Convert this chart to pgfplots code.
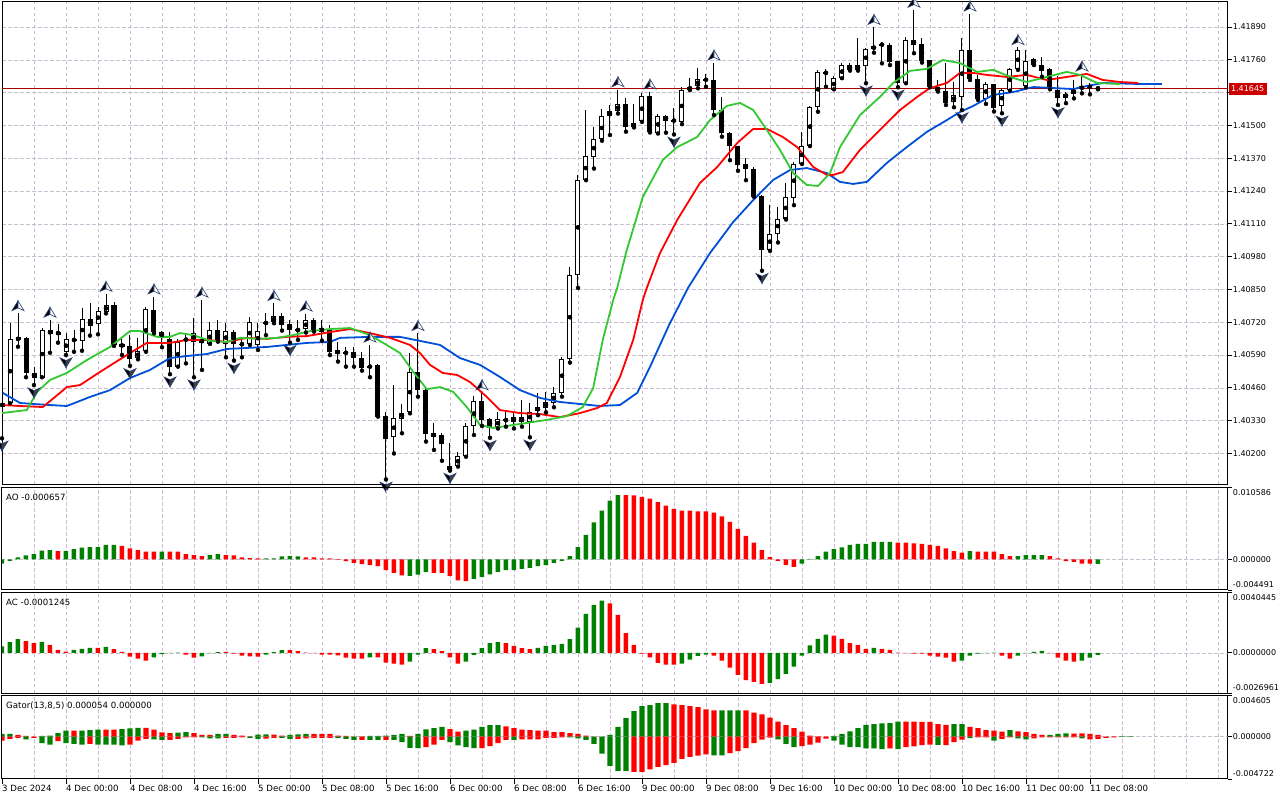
\documentclass[border=0pt]{standalone}
\usepackage{fontspec}
\setmainfont{DejaVu Sans}
\usepackage{pgfplots}
\usepackage{pgfplotstable}
\pgfplotsset{compat=1.18}
\definecolor{gridx}{RGB}{206,186,210}
\definecolor{gridy}{RGB}{200,190,208}
\definecolor{jawc}{RGB}{0,80,215}
\definecolor{teethc}{RGB}{255,0,0}
\definecolor{lipsc}{RGB}{50,200,50}
\definecolor{upc}{RGB}{0,128,0}
\definecolor{dnc}{RGB}{255,0,0}
\definecolor{pricec}{RGB}{170,0,0}
\definecolor{pricebox}{RGB}{205,0,0}
\definecolor{arrowedge}{RGB}{40,60,110}
\newcommand\lbl{\fontsize{8.6}{10}\selectfont}
\newcommand\nlbl{\fontsize{8}{9.5}\selectfont}

\pgfdeclareplotmark{fup}{%
  \pgfpathmoveto{\pgfpoint{0pt}{12.5pt}}%
  \pgfpathlineto{\pgfpoint{0pt}{5.5pt}}%
  \pgfpathlineto{\pgfpoint{-6pt}{2.8pt}}%
  \pgfpathclose
  \pgfsetfillcolor{black}\pgfusepathqfillstroke
  \pgfpathmoveto{\pgfpoint{0pt}{12.5pt}}%
  \pgfpathlineto{\pgfpoint{6pt}{2.8pt}}%
  \pgfpathlineto{\pgfpoint{0pt}{5.5pt}}%
  \pgfpathclose
  \pgfsetfillcolor{white}\pgfusepathqfillstroke}
\pgfdeclareplotmark{fdn}{%
  \pgfpathmoveto{\pgfpoint{0pt}{-12.5pt}}%
  \pgfpathlineto{\pgfpoint{0pt}{-5.5pt}}%
  \pgfpathlineto{\pgfpoint{-6pt}{-2.8pt}}%
  \pgfpathclose
  \pgfsetfillcolor{black}\pgfusepathqfillstroke
  \pgfpathmoveto{\pgfpoint{0pt}{-12.5pt}}%
  \pgfpathlineto{\pgfpoint{6pt}{-2.8pt}}%
  \pgfpathlineto{\pgfpoint{0pt}{-5.5pt}}%
  \pgfpathclose
  \pgfsetfillcolor{black!75}\pgfusepathqfillstroke}

\pgfplotstableread{
n O H L C
0 1.40385 1.40412 1.40260 1.40401
1 1.40399 1.40716 1.40399 1.40654
2 1.40648 1.40755 1.40623 1.40660
3 1.40660 1.40663 1.40502 1.40518
4 1.40522 1.40544 1.40471 1.40502
5 1.40502 1.40696 1.40502 1.40689
6 1.40689 1.40729 1.40599 1.40672
7 1.40672 1.40713 1.40639 1.40684
8 1.40601 1.40676 1.40590 1.40652
9 1.40652 1.40689 1.40603 1.40647
10 1.40647 1.40778 1.40607 1.40732
11 1.40732 1.40795 1.40667 1.40706
12 1.40712 1.40782 1.40672 1.40765
13 1.40762 1.40831 1.40755 1.40788
14 1.40788 1.40802 1.40626 1.40630
15 1.40636 1.40663 1.40590 1.40623
16 1.40626 1.40669 1.40547 1.40577
17 1.40577 1.40656 1.40573 1.40606
18 1.40606 1.40782 1.40603 1.40771
19 1.40771 1.40821 1.40676 1.40683
20 1.40680 1.40687 1.40621 1.40659
21 1.40656 1.40683 1.40514 1.40544
22 1.40544 1.40654 1.40544 1.40643
23 1.40647 1.40669 1.40557 1.40656
24 1.40643 1.40736 1.40502 1.40680
25 1.40654 1.40808 1.40531 1.40636
26 1.40636 1.40722 1.40634 1.40689
27 1.40689 1.40729 1.40643 1.40650
28 1.40634 1.40716 1.40581 1.40685
29 1.40681 1.40689 1.40568 1.40634
30 1.40634 1.40656 1.40581 1.40632
31 1.40634 1.40742 1.40630 1.40720
32 1.40630 1.40716 1.40610 1.40685
33 1.40712 1.40755 1.40669 1.40722
34 1.40720 1.40795 1.40716 1.40745
35 1.40745 1.40755 1.40687 1.40712
36 1.40716 1.40729 1.40639 1.40689
37 1.40687 1.40729 1.40650 1.40692
38 1.40692 1.40753 1.40679 1.40729
39 1.40729 1.40736 1.40683 1.40689
40 1.40700 1.40729 1.40647 1.40683
41 1.40689 1.40709 1.40590 1.40602
42 1.40610 1.40643 1.40564 1.40597
43 1.40603 1.40623 1.40544 1.40597
44 1.40603 1.40623 1.40544 1.40577
45 1.40577 1.40603 1.40528 1.40540
46 1.40540 1.40630 1.40502 1.40549
47 1.40550 1.40554 1.40346 1.40346
48 1.40348 1.40366 1.40097 1.40260
49 1.40264 1.40471 1.40200 1.40339
50 1.40339 1.40396 1.40280 1.40363
51 1.40363 1.40597 1.40359 1.40524
52 1.40524 1.40676 1.40425 1.40454
53 1.40451 1.40462 1.40247 1.40280
54 1.40282 1.40319 1.40214 1.40266
55 1.40273 1.40280 1.40171 1.40237
56 1.40134 1.40240 1.40132 1.40150
57 1.40150 1.40207 1.40148 1.40190
58 1.40190 1.40322 1.40187 1.40309
59 1.40309 1.40428 1.40273 1.40408
60 1.40408 1.40441 1.40309 1.40335
61 1.40336 1.40339 1.40262 1.40302
62 1.40306 1.40363 1.40299 1.40336
63 1.40336 1.40363 1.40306 1.40329
64 1.40326 1.40368 1.40299 1.40346
65 1.40343 1.40412 1.40306 1.40326
66 1.40326 1.40401 1.40264 1.40363
67 1.40368 1.40438 1.40352 1.40383
68 1.40383 1.40445 1.40363 1.40403
69 1.40403 1.40462 1.40383 1.40441
70 1.40441 1.40583 1.40425 1.40574
71 1.40574 1.40939 1.40560 1.40907
72 1.40907 1.41303 1.40856 1.41286
73 1.41286 1.41561 1.41283 1.41378
74 1.41373 1.41492 1.41329 1.41446
75 1.41446 1.41565 1.41439 1.41537
76 1.41537 1.41580 1.41462 1.41557
77 1.41557 1.41642 1.41547 1.41583
78 1.41583 1.41607 1.41475 1.41495
79 1.41492 1.41584 1.41492 1.41508
80 1.41517 1.41627 1.41514 1.41616
81 1.41616 1.41633 1.41472 1.41472
82 1.41472 1.41545 1.41468 1.41537
83 1.41537 1.41540 1.41471 1.41517
84 1.41520 1.41567 1.41464 1.41521
85 1.41514 1.41653 1.41505 1.41642
86 1.41642 1.41686 1.41640 1.41653
87 1.41656 1.41726 1.41647 1.41682
88 1.41681 1.41702 1.41653 1.41683
89 1.41682 1.41748 1.41541 1.41561
90 1.41563 1.41613 1.41455 1.41471
91 1.41472 1.41472 1.41362 1.41418
92 1.41418 1.41418 1.41320 1.41345
93 1.41347 1.41369 1.41283 1.41329
94 1.41329 1.41336 1.41217 1.41217
95 1.41220 1.41224 1.40924 1.41008
96 1.41008 1.41184 1.41003 1.41072
97 1.41072 1.41175 1.41036 1.41131
98 1.41131 1.41273 1.41127 1.41215
99 1.41215 1.41356 1.41184 1.41349
100 1.41349 1.41475 1.41347 1.41418
101 1.41418 1.41576 1.41418 1.41574
102 1.41574 1.41719 1.41554 1.41713
103 1.41713 1.41722 1.41653 1.41706
104 1.41643 1.41696 1.41643 1.41687
105 1.41689 1.41746 1.41687 1.41739
106 1.41739 1.41749 1.41717 1.41720
107 1.41720 1.41845 1.41717 1.41739
108 1.41735 1.41806 1.41667 1.41802
109 1.41802 1.41889 1.41788 1.41815
110 1.41816 1.41832 1.41746 1.41825
111 1.41819 1.41825 1.41739 1.41753
112 1.41755 1.41755 1.41651 1.41667
113 1.41669 1.41849 1.41667 1.41841
114 1.41839 1.41957 1.41786 1.41821
115 1.41823 1.41845 1.41749 1.41755
116 1.41759 1.41759 1.41651 1.41654
117 1.41651 1.41680 1.41634 1.41636
118 1.41636 1.41746 1.41581 1.41590
119 1.41592 1.41673 1.41572 1.41621
120 1.41614 1.41845 1.41561 1.41799
121 1.41799 1.41942 1.41680 1.41683
122 1.41683 1.41700 1.41601 1.41605
123 1.41605 1.41673 1.41585 1.41664
124 1.41664 1.41664 1.41555 1.41570
125 1.41577 1.41647 1.41548 1.41640
126 1.41640 1.41726 1.41638 1.41722
127 1.41722 1.41809 1.41720 1.41799
128 1.41656 1.41799 1.41651 1.41755
129 1.41766 1.41766 1.41739 1.41742
130 1.41742 1.41772 1.41693 1.41716
131 1.41724 1.41726 1.41643 1.41647
132 1.41643 1.41696 1.41581 1.41611
133 1.41611 1.41634 1.41588 1.41627
134 1.41627 1.41680 1.41607 1.41643
135 1.41643 1.41704 1.41627 1.41656
136 1.41656 1.41667 1.41623 1.41651
137 1.41651 1.41654 1.41643 1.41645
}\candles

\pgfplotstableread{
n H
2 1.40755
6 1.40729
13 1.40831
19 1.40821
25 1.40808
34 1.40795
38 1.40753
46 1.40630
52 1.40676
60 1.40441
77 1.41642
81 1.41633
89 1.41748
109 1.41889
114 1.41957
121 1.41942
127 1.41809
135 1.41704
}\fracup

\pgfplotstableread{
n L
0 1.40260
4 1.40471
8 1.40590
16 1.40547
21 1.40514
24 1.40502
29 1.40568
36 1.40639
48 1.40097
56 1.40132
61 1.40262
66 1.40264
84 1.41464
95 1.40924
108 1.41667
112 1.41651
120 1.41561
125 1.41548
132 1.41581
}\fracdn

\pgfplotstableread{
n P
0.1 1.40440
2.25 1.40400
3.9 1.40396
8.1 1.40388
9.4 1.40404
11 1.40424
13.5 1.40451
16 1.40499
18.5 1.40531
21 1.40578
23.1 1.40586
25.6 1.40594
28.1 1.40614
30.6 1.40618
33.1 1.40622
35.6 1.40630
38.1 1.40638
41 1.40642
42.25 1.40658
46 1.40662
49.75 1.40662
52.25 1.40646
54.75 1.40630
57.25 1.40578
59.75 1.40551
62.25 1.40503
64.75 1.40451
67.25 1.40420
69.75 1.40404
72.25 1.40396
74.75 1.40388
77.25 1.40392
79.4 1.40440
81 1.40543
83.4 1.40710
85.75 1.40856
88.5 1.40994
91.4 1.41117
93.9 1.41204
96.4 1.41284
98.5 1.41323
100.6 1.41331
103.1 1.41311
104.75 1.41276
106.4 1.41268
108.1 1.41276
110.6 1.41351
113.1 1.41414
115.6 1.41474
118.1 1.41521
119.75 1.41553
121.4 1.41577
123.9 1.41621
126.4 1.41632
128.9 1.41652
131.4 1.41648
133.9 1.41644
135.6 1.41656
137.6 1.41668
142.25 1.41664
145 1.41664
}\jaw

\pgfplotstableread{
n P
0 1.40392
2.25 1.40388
5.1 1.40384
7.25 1.40440
8.1 1.40463
9.75 1.40471
12.25 1.40523
16 1.40598
18.1 1.40638
21 1.40638
23.1 1.40650
25.6 1.40650
28.1 1.40642
30.6 1.40658
33.1 1.40654
35.6 1.40662
38.1 1.40665
41 1.40681
43.5 1.40693
46 1.40677
48.5 1.40658
51 1.40630
52.25 1.40598
53.5 1.40551
55.1 1.40519
56.9 1.40511
58.5 1.40483
60.6 1.40424
62.25 1.40372
64.75 1.40360
67.25 1.40356
69.75 1.40344
72.25 1.40360
74.4 1.40380
75.6 1.40400
77.25 1.40503
78.9 1.40650
80.1 1.40808
80.6 1.40856
82.25 1.40994
84.4 1.41125
87.25 1.41272
89.4 1.41335
91.9 1.41430
93.9 1.41486
95.6 1.41486
97.6 1.41454
99.4 1.41414
101.4 1.41335
103.1 1.41304
103.9 1.41304
105.1 1.41315
107.25 1.41403
109.75 1.41482
112.25 1.41561
114.4 1.41613
116 1.41648
118.1 1.41668
119.75 1.41708
121.4 1.41708
123.1 1.41700
125.6 1.41692
128.1 1.41700
130.6 1.41680
133.1 1.41692
135.6 1.41704
137.6 1.41680
139.75 1.41672
142 1.41668
}\teeth

\pgfplotstableread{
n P
0 1.40360
3.1 1.40372
4.4 1.40444
6 1.40491
8.1 1.40519
10.6 1.40570
13.5 1.40622
16 1.40685
17.25 1.40685
19.4 1.40662
21 1.40662
22.25 1.40677
23.9 1.40669
26 1.40646
28.1 1.40642
29.75 1.40658
32.25 1.40654
34.4 1.40658
36.4 1.40669
38.5 1.40685
41 1.40693
43.5 1.40697
46 1.40669
48.5 1.40622
49.75 1.40598
51.4 1.40523
53.1 1.40455
54.75 1.40463
56.4 1.40444
58.1 1.40384
59.75 1.40313
61.4 1.40301
63.1 1.40309
65.6 1.40321
68.1 1.40333
70.6 1.40348
72.6 1.40384
73.9 1.40459
75.1 1.40650
76.4 1.40808
76.9 1.40856
78.1 1.41006
80.1 1.41216
82.6 1.41363
84.4 1.41414
86.9 1.41454
88.5 1.41521
90.6 1.41577
92.25 1.41589
93.9 1.41561
95.6 1.41482
97.25 1.41403
98.9 1.41311
100.6 1.41264
102 1.41260
103.5 1.41311
104.75 1.41414
107.25 1.41541
109.75 1.41613
111.4 1.41668
113.5 1.41716
115.6 1.41724
117.6 1.41759
119.75 1.41747
121.9 1.41712
123.9 1.41720
126.4 1.41688
128.1 1.41672
130.6 1.41692
133.1 1.41712
134.75 1.41700
136.9 1.41668
139.75 1.41664
}\lips

\pgfplotstableread{
n v c
0 -0.000594 1
1 -0.000198 1
2 0.000297 1
3 0.000594 1
4 0.000792 1
5 0.001288 1
6 0.001387 1
7 0.001238 0
8 0.001238 1
9 0.001535 1
10 0.001734 1
11 0.001833 1
12 0.001833 1
13 0.002130 1
14 0.002130 1
15 0.001981 0
16 0.001635 0
17 0.001387 0
18 0.001139 0
19 0.001139 0
20 0.001139 1
21 0.001139 0
22 0.001139 0
23 0.000792 0
24 0.000644 0
25 0.000495 0
26 0.000644 1
27 0.000792 1
28 0.000644 0
29 0.000594 0
30 0.000297 0
31 0.000198 0
32 0.000149 0
33 0.000149 1
34 0.000149 1
35 0.000446 1
36 0.000495 1
37 0.000446 1
38 0.000297 0
39 0.000297 0
40 0.000149 0
41 0.000149 0
42 -0.000050 0
43 -0.000248 0
44 -0.000495 0
45 -0.000693 0
46 -0.000842 0
47 -0.000991 0
48 -0.001585 0
49 -0.001981 0
50 -0.002328 0
51 -0.002427 1
52 -0.002229 1
53 -0.001833 1
54 -0.001981 0
55 -0.001981 0
56 -0.002427 0
57 -0.003071 0
58 -0.003170 0
59 -0.002873 1
60 -0.002576 1
61 -0.002179 1
62 -0.001833 1
63 -0.001585 1
64 -0.001585 1
65 -0.001387 1
66 -0.001238 1
67 -0.000991 1
68 -0.000842 1
69 -0.000495 1
70 -0.000198 1
71 0.000495 1
72 0.001833 1
73 0.003616 1
74 0.005448 1
75 0.007182 1
76 0.008668 1
77 0.009460 1
78 0.009450 0
79 0.009440 0
80 0.009213 0
81 0.008965 0
82 0.008420 0
83 0.007925 0
84 0.007430 0
85 0.007182 0
86 0.007182 0
87 0.007083 0
88 0.007083 0
89 0.006885 0
90 0.006340 0
91 0.005547 0
92 0.004507 0
93 0.003467 0
94 0.002477 0
95 0.001387 0
96 0.000347 0
97 -0.000198 0
98 -0.000842 0
99 -0.001090 0
100 -0.000594 1
101 0.000099 1
102 0.000495 1
103 0.001139 1
104 0.001535 1
105 0.001783 1
106 0.002130 1
107 0.002278 1
108 0.002278 1
109 0.002576 1
110 0.002576 1
111 0.002576 1
112 0.002477 0
113 0.002477 0
114 0.002377 0
115 0.002278 0
116 0.002130 0
117 0.001981 0
118 0.001635 0
119 0.001238 0
120 0.000991 0
121 0.001238 1
122 0.001139 0
123 0.001139 0
124 0.001139 0
125 0.000792 0
126 0.000495 0
127 0.000495 1
128 0.000644 1
129 0.000644 1
130 0.000644 1
131 0.000495 0
132 0.000149 0
133 -0.000248 0
134 -0.000347 0
135 -0.000594 0
136 -0.000594 0
137 -0.000657 1
}\ao

\pgfplotstableread{
n v c
0 0.000427 1
1 0.000719 1
2 0.000921 1
3 0.000786 0
4 0.000652 0
5 0.000742 1
6 0.000539 0
7 0.000202 0
8 0.000090 0
9 0.000202 1
10 0.000270 1
11 0.000337 1
12 0.000337 0
13 0.000404 1
14 0.000247 0
15 0.000067 0
16 -0.000247 0
17 -0.000382 0
18 -0.000517 0
19 -0.000292 1
20 -0.000090 1
21 -0.000020 1
22 0.000010 1
23 -0.000112 0
24 -0.000315 0
25 -0.000225 1
26 -0.000020 1
27 0.000045 1
28 0.000067 0
29 -0.000045 0
30 -0.000180 0
31 -0.000225 0
32 -0.000247 0
33 -0.000112 1
34 0.000045 1
35 0.000180 1
36 0.000180 0
37 0.000112 0
38 0.000020 0
39 -0.000020 0
40 -0.000112 0
41 -0.000112 0
42 -0.000157 0
43 -0.000315 0
44 -0.000382 0
45 -0.000382 0
46 -0.000292 1
47 -0.000292 0
48 -0.000652 0
49 -0.000719 0
50 -0.000786 0
51 -0.000584 1
52 -0.000112 1
53 0.000315 1
54 0.000247 0
55 0.000112 0
56 -0.000292 0
57 -0.000719 0
58 -0.000584 1
59 -0.000135 1
60 0.000315 1
61 0.000652 1
62 0.000719 1
63 0.000652 0
64 0.000472 0
65 0.000315 0
66 0.000247 0
67 0.000337 1
68 0.000472 1
69 0.000539 1
70 0.000607 1
71 0.000921 1
72 0.001685 1
73 0.002607 1
74 0.003213 1
75 0.003483 1
76 0.003303 0
77 0.002539 0
78 0.001326 0
79 0.000539 0
80 -0.000045 0
81 -0.000292 0
82 -0.000674 0
83 -0.000786 0
84 -0.000786 0
85 -0.000719 1
86 -0.000449 1
87 -0.000202 1
88 -0.000112 1
89 -0.000180 0
90 -0.000517 0
91 -0.000989 0
92 -0.001461 0
93 -0.001820 0
94 -0.001932 0
95 -0.002067 0
96 -0.002000 1
97 -0.001753 1
98 -0.001393 1
99 -0.000921 1
100 -0.000180 1
101 0.000494 1
102 0.000944 1
103 0.001213 1
104 0.001146 0
105 0.000944 0
106 0.000652 0
107 0.000539 0
108 0.000270 0
109 0.000337 1
110 0.000270 0
111 0.000202 0
112 0.000010 0
113 -0.000020 0
114 -0.000045 0
115 -0.000045 0
116 -0.000180 0
117 -0.000247 0
118 -0.000315 0
119 -0.000584 0
120 -0.000517 1
121 -0.000180 1
122 -0.000045 1
123 -0.000020 1
124 0.000010 1
125 -0.000180 0
126 -0.000382 0
127 -0.000180 1
128 -0.000020 1
129 0.000067 1
130 0.000135 1
131 -0.000020 0
132 -0.000315 0
133 -0.000517 0
134 -0.000584 0
135 -0.000517 1
136 -0.000315 1
137 -0.000125 1
}\ac

\pgfplotstableread{
n up cu dn cd
0 0.000293 1 -0.000439 0
1 0.000293 1 -0.000256 0
2 0.000183 0 -0.000146 0
3 0.000073 0 -0.000293 1
4 0.000000 0 -0.000146 0
5 0.000073 1 -0.000732 1
6 0.000110 1 -0.000878 1
7 0.000403 1 -0.000512 0
8 0.000659 1 -0.000732 1
9 0.000659 0 -0.000805 1
10 0.000659 1 -0.000878 1
11 0.000732 1 -0.000805 0
12 0.000769 1 -0.000878 1
13 0.000769 0 -0.000878 1
14 0.000769 0 -0.000878 1
15 0.000842 1 -0.000988 1
16 0.000915 1 -0.000878 0
17 0.000988 1 -0.000439 0
18 0.000988 0 -0.000256 0
19 0.000769 0 -0.000293 1
20 0.000476 0 -0.000366 1
21 0.000403 0 -0.000366 0
22 0.000439 1 -0.000256 0
23 0.000512 1 -0.000073 0
24 0.000403 0 -0.000073 0
25 0.000183 0 -0.000073 1
26 0.000183 0 -0.000183 1
27 0.000293 1 -0.000183 1
28 0.000293 1 -0.000146 0
29 0.000183 0 -0.000146 0
30 0.000110 0 -0.000073 0
31 0.000037 0 -0.000146 1
32 0.000220 1 -0.000256 1
33 0.000256 1 -0.000220 0
34 0.000220 0 -0.000146 0
35 0.000110 0 -0.000146 1
36 0.000183 1 -0.000256 1
37 0.000256 1 -0.000256 0
38 0.000293 1 -0.000183 0
39 0.000293 0 -0.000146 0
40 0.000293 0 -0.000146 0
41 0.000293 0 -0.000146 0
42 0.000110 0 -0.000146 1
43 0.000073 0 -0.000256 1
44 0.000000 0 -0.000366 1
45 0.000037 1 -0.000366 0
46 0.000073 1 -0.000366 1
47 0.000073 1 -0.000366 1
48 0.000110 1 -0.000366 0
49 0.000183 1 -0.000366 1
50 0.000293 1 -0.000622 1
51 0.000073 0 -0.001244 1
52 0.000293 1 -0.001281 1
53 0.000805 1 -0.001171 0
54 0.000952 1 -0.000878 0
55 0.001098 1 -0.000366 0
56 0.000842 0 -0.000622 1
57 0.000549 0 -0.000988 1
58 0.000659 1 -0.001171 1
59 0.000769 1 -0.001281 1
60 0.001098 1 -0.001281 0
61 0.001281 1 -0.001061 0
62 0.001281 1 -0.000732 0
63 0.001135 0 -0.000366 0
64 0.000952 0 -0.000366 1
65 0.000769 0 -0.000293 0
66 0.000732 0 -0.000293 0
67 0.000659 0 -0.000293 0
68 0.000659 0 -0.000146 0
69 0.000512 0 -0.000146 0
70 0.000512 0 -0.000073 0
71 0.000403 0 -0.000073 1
72 0.000293 0 -0.000183 1
73 0.000110 0 -0.000366 1
74 0.000000 0 -0.000805 1
75 0.000000 0 -0.001903 1
76 0.000183 1 -0.003257 1
77 0.001098 1 -0.003806 1
78 0.002050 1 -0.003843 1
79 0.002855 1 -0.003916 0
80 0.003404 1 -0.003916 0
81 0.003514 1 -0.003660 0
82 0.003733 1 -0.003367 0
83 0.003733 1 -0.003184 0
84 0.003587 0 -0.002928 0
85 0.003514 0 -0.002489 0
86 0.003404 0 -0.002269 0
87 0.003294 0 -0.002123 0
88 0.003038 0 -0.001976 0
89 0.002928 0 -0.002086 1
90 0.002928 1 -0.002086 1
91 0.002928 1 -0.001830 0
92 0.002928 1 -0.001610 0
93 0.002928 0 -0.001281 0
94 0.002672 0 -0.000732 0
95 0.002489 0 -0.000329 0
96 0.002123 0 -0.000110 0
97 0.001684 0 -0.000293 1
98 0.001281 0 -0.000805 1
99 0.000952 0 -0.001171 1
100 0.000549 0 -0.001061 0
101 0.000110 0 -0.000878 0
102 0.000037 0 -0.000659 0
103 0.000000 0 -0.000220 0
104 0.000073 1 -0.000439 1
105 0.000293 1 -0.000878 1
106 0.000586 1 -0.001171 1
107 0.000952 1 -0.001171 1
108 0.001318 1 -0.001318 1
109 0.001391 1 -0.001318 1
110 0.001464 1 -0.001391 1
111 0.001501 1 -0.001318 0
112 0.001684 1 -0.001391 1
113 0.001684 0 -0.001171 0
114 0.001684 0 -0.001098 0
115 0.001647 0 -0.000952 0
116 0.001647 0 -0.000878 0
117 0.001391 0 -0.000915 1
118 0.001318 0 -0.000952 0
119 0.001391 1 -0.000622 0
120 0.001391 1 -0.000329 0
121 0.001098 0 -0.000146 1
122 0.000952 0 -0.000073 0
123 0.000732 0 -0.000073 0
124 0.000659 0 -0.000439 1
125 0.000549 0 -0.000256 0
126 0.000732 1 -0.000073 0
127 0.000586 0 -0.000183 1
128 0.000512 0 -0.000293 1
129 0.000293 0 -0.000183 0
130 0.000183 0 -0.000073 0
131 0.000183 1 -0.000073 0
132 0.000293 1 -0.000073 0
133 0.000366 1 -0.000073 0
134 0.000329 0 -0.000073 0
135 0.000366 0 -0.000183 1
136 0.000293 0 -0.000293 0
137 0.000183 0 -0.000256 0
138 0.000000 0 -0.000146 0
139 0.000037 0 -0.000073 0
140 0.000037 1 -0.000037 1
141 0.000018 1 -0.000018 1
}\gator

\pgfplotsset{
  panel/.style={
    scale only axis, width=1225.5pt, anchor=south west,
    xmin=0, xmax=153.19,
    scaled ticks=false,
    axis line style={black, line width=1pt},
    xtick={4,8,...,152}, xticklabels={}, xtick style={draw=none},
    xmajorgrids,
    x grid style={gridx, dash pattern=on 3.5pt off 2.5pt, line width=0.55pt},
    y grid style={gridy, dash pattern=on 3.5pt off 2.5pt, line width=0.55pt},
    ytick pos=right, yticklabel pos=right,
    tick align=outside, major tick length=4pt,
    ytick style={black, line width=0.8pt},
    yticklabel style={font=\nlbl, anchor=west, inner xsep=1.2pt, inner ysep=0pt},
  },
  subpanel/.style={panel, ymajorgrids=false},
  zeroline/.style={gridy, line width=0.55pt, dash pattern=on 3.5pt off 2.5pt},
  bars/.style={ybar, bar width=4.5pt, bar shift=0pt, draw=none},
}

\begin{document}
\begin{tikzpicture}
\path[use as bounding box] (0,0) rectangle (1280pt,800pt);

% ---------------- main price panel ----------------
\begin{axis}[panel, name=main, at={(2pt,315.5pt)}, height=482.5pt,
  ymin=1.40077, ymax=1.41989,
  ytick={1.40200,1.40330,1.40460,1.40590,1.40720,1.40850,1.40980,1.41110,1.41240,1.41370,1.41500,1.41630,1.41760,1.41890},
  yticklabels={1.40200,1.40330,1.40460,1.40590,1.40720,1.40850,1.40980,1.41110,1.41240,1.41370,1.41500,1.41630,1.41760,1.41890},
  ymajorgrids]
\addplot[pricec, line width=0.8pt] coordinates {(0,1.41645) (153.19,1.41645)};
% wicks
\addplot[only marks, mark=none, error bars/.cd, y dir=plus, y explicit, error mark=none,
  error bar style={draw=black, line width=1pt}]
  table[x=n, y=L, y error expr=\thisrow{H}-\thisrow{L}] {\candles};
% bodies (outer)
\addplot[only marks, mark=none, error bars/.cd, y dir=both, y explicit, error mark=none,
  error bar style={draw=black, line width=5pt}]
  table[x=n, y expr={(\thisrow{O}+\thisrow{C})/2}, y error expr={max(abs(\thisrow{C}-\thisrow{O})/2,0.000022)}] {\candles};
% bodies (bullish inner)
\addplot[only marks, mark=none, error bars/.cd, y dir=both, y explicit, error mark=none,
  error bar style={draw=white, line width=3pt}]
  table[x=n, y expr={(\thisrow{O}+\thisrow{C})/2}, y error expr={max((\thisrow{C}-\thisrow{O})/2-0.00004,0)}] {\candles};
% alligator
\addplot[jawc, line width=1.8pt] table[x=n, y=P] {\jaw};
\addplot[teethc, line width=1.8pt] table[x=n, y=P] {\teeth};
\addplot[lipsc, line width=1.8pt] table[x=n, y=P] {\lips};
% fractals
\addplot[only marks, mark=fup, mark options={draw=arrowedge, line width=0.6pt}] table[x=n, y=H] {\fracup};
\addplot[only marks, mark=fdn, mark options={draw=arrowedge, line width=0.6pt}] table[x=n, y=L] {\fracdn};
\coordinate (pbox) at (axis cs:153.19,1.41645);
\end{axis}
\node[fill=pricebox, text=white, font=\nlbl, inner xsep=2.6pt, inner ysep=0pt, minimum height=11.5pt, anchor=west] at ([xshift=0.8pt]pbox) {1.41645};

% ---------------- AO ----------------
\begin{axis}[subpanel, name=ao, at={(2pt,210pt)}, height=102.5pt,
  ymin=-0.004491, ymax=0.010586, ytick={-0.004491,0,0.010586}, yticklabels={,0.000000,}]
\addplot[zeroline] coordinates {(0,0) (153.19,0)};
\addplot[bars, fill=upc, restrict expr to domain={\thisrow{c}}{0.5:1.5}] table[x=n, y=v] {\ao};
\addplot[bars, fill=dnc, restrict expr to domain={\thisrow{c}}{-0.5:0.5}] table[x=n, y=v] {\ao};
\end{axis}
\node[anchor=north west, font=\lbl, inner sep=0pt] at ([xshift=4pt,yshift=-6pt]ao.north west) {AO -0.000657};
\node[anchor=west, font=\nlbl, inner sep=0pt] at ([xshift=5.2pt,yshift=-5.2pt]ao.north east) {0.010586};
\node[anchor=west, font=\nlbl, inner sep=0pt] at ([xshift=5.2pt,yshift=5.3pt]ao.south east) {-0.004491};

% ---------------- AC ----------------
\begin{axis}[subpanel, name=ac, at={(2pt,106.7pt)}, height=101pt,
  ymin=-0.0026961, ymax=0.0040445, ytick={-0.0026961,0,0.0040445}, yticklabels={,0.0000000,}]
\addplot[zeroline] coordinates {(0,0) (153.19,0)};
\addplot[bars, fill=upc, restrict expr to domain={\thisrow{c}}{0.5:1.5}] table[x=n, y=v] {\ac};
\addplot[bars, fill=dnc, restrict expr to domain={\thisrow{c}}{-0.5:0.5}] table[x=n, y=v] {\ac};
\end{axis}
\node[anchor=north west, font=\lbl, inner sep=0pt] at ([xshift=4pt,yshift=-6.2pt]ac.north west) {AC -0.0001245};
\node[anchor=west, font=\nlbl, inner sep=0pt] at ([xshift=5.2pt,yshift=-5.2pt]ac.north east) {0.0040445};
\node[anchor=west, font=\nlbl, inner sep=0pt] at ([xshift=5.2pt,yshift=5.5pt]ac.south east) {-0.0026961};

% ---------------- Gator ----------------
\begin{axis}[subpanel, name=gator, at={(2pt,21pt)}, height=83.7pt,
  ymin=-0.004722, ymax=0.004605, ytick={-0.004722,0,0.004605}, yticklabels={,0.000000,},
  extra x ticks={0,8,...,136},
  extra x tick labels={3 Dec 2024,4 Dec 00:00,4 Dec 08:00,4 Dec 16:00,5 Dec 00:00,5 Dec 08:00,5 Dec 16:00,6 Dec 00:00,6 Dec 08:00,6 Dec 16:00,9 Dec 00:00,9 Dec 08:00,9 Dec 16:00,10 Dec 00:00,10 Dec 08:00,10 Dec 16:00,11 Dec 00:00,11 Dec 08:00},
  extra x tick style={grid=none, xtick pos=bottom, xtick style={draw=black, line width=0.8pt}, major tick length=5pt,
     xticklabel style={font=\lbl, anchor=north west, inner sep=0pt, yshift=-1pt}},
  bars/.style={ybar, bar width=5.3pt, bar shift=0pt, draw=none}]
\addplot[zeroline] coordinates {(0,0) (153.19,0)};
\addplot[bars, fill=upc, restrict expr to domain={\thisrow{cu}}{0.5:1.5}] table[x=n, y=up] {\gator};
\addplot[bars, fill=dnc, restrict expr to domain={\thisrow{cu}}{-0.5:0.5}] table[x=n, y=up] {\gator};
\addplot[bars, fill=upc, restrict expr to domain={\thisrow{cd}}{0.5:1.5}] table[x=n, y=dn] {\gator};
\addplot[bars, fill=dnc, restrict expr to domain={\thisrow{cd}}{-0.5:0.5}] table[x=n, y=dn] {\gator};
\end{axis}
\node[anchor=north west, font=\lbl, inner sep=0pt] at ([xshift=4pt,yshift=-6.2pt]gator.north west) {Gator(13,8,5) 0.000054 0.000000};
\node[anchor=west, font=\nlbl, inner sep=0pt] at ([xshift=5.2pt,yshift=-5.4pt]gator.north east) {0.004605};
\node[anchor=west, font=\nlbl, inner sep=0pt] at ([xshift=5.2pt,yshift=5.7pt]gator.south east) {-0.004722};
\end{tikzpicture}
\end{document}
